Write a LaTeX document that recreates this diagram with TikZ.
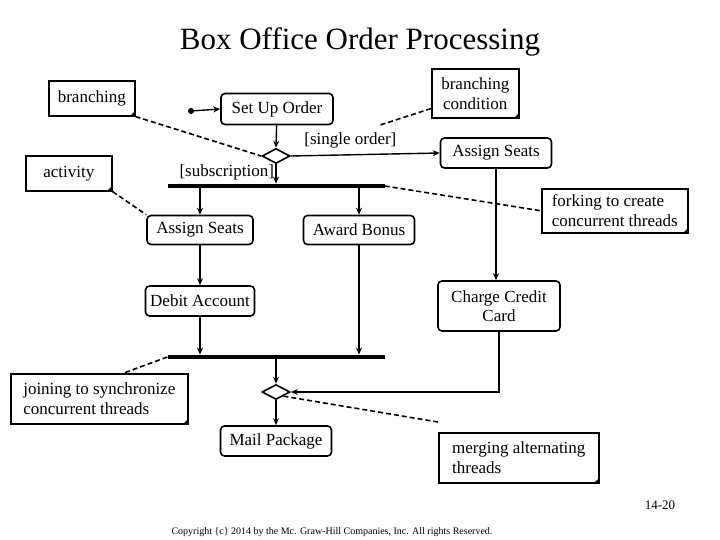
\documentclass[tikz,border=0pt]{standalone}
\usepackage{fontspec}
\setmainfont{Liberation Serif}
\usetikzlibrary{arrows.meta,shapes.geometric}
\tikzset{
  act/.style={draw,line width=1.6pt,rounded corners=4pt,inner sep=1pt,font=\fontsize{17}{19}\selectfont},
  note/.style={draw,line width=1.6pt,align=left,inner sep=3pt,anchor=north west,font=\fontsize{17}{20}\selectfont},
  choice/.style={draw,line width=1.6pt,diamond,minimum width=28pt,minimum height=15pt,inner sep=0pt},
  bar/.style={fill=black,minimum width=217pt,minimum height=4.5pt,inner sep=0pt},
  flow/.style={line width=1.4pt,-{Stealth[length=7pt,width=6pt]}},
  hint/.style={line width=1.6pt,dash pattern=on 5pt off 3pt},
}
\newcommand{\fold}[1]{\fill (#1.south east) -- ++(-6,0) -- ++(6,-6) -- cycle;}
\begin{document}
\begin{tikzpicture}[x=1pt,y=-1pt]
	\useasboundingbox (0,0) rectangle (720,540);
	\node[font=\fontsize{31}{34}\selectfont] (title) at (360,42) {Box Office Order Processing};

	% activities
	\fill (191,111) circle(3pt) coordinate (start);
	\node[act,minimum width=112pt,minimum height=31pt] (setup) at (277,109) {Set Up Order};
	\node[choice] (split) at (276,156) {};
	\node[act,minimum width=111pt,minimum height=30pt] (seatsR) at (496,153) {Assign Seats};
	\node[bar] (fork) at (276,186) {};
	\node[act,minimum width=106pt,minimum height=29pt] (seatsL) at (200,230) {Assign Seats};
	\node[act,minimum width=111pt,minimum height=29pt] (bonus) at (359,230) {Award Bonus};
	\node[act,minimum width=109pt,minimum height=30pt] (debit) at (200,301) {Debit Account};
	\node[act,minimum width=122pt,minimum height=50pt,align=center] (credit) at (499,306) {Charge Credit\\Card};
	\node[bar] (join) at (276,357) {};
	\node[choice] (merge) at (276,392) {};
	\node[act,minimum width=111pt,minimum height=30pt] (mail) at (276,441) {Mail Package};

	% flows
	\draw[flow] (start) -- (setup.west);
	\draw[flow] (setup) -- (split.north);
	\draw[flow] (split.east) -- (seatsR.west) node[pos=0.4,above=3pt,font=\fontsize{17}{19}\selectfont]{[single order]};
	\draw[flow] (split.south) -- (fork.north) node[pos=0.4,left=-2pt,font=\fontsize{17}{19}\selectfont]{[subscription]};
	\draw[flow] (fork.south -| seatsL) -- (seatsL.north);
	\draw[flow] (fork.south -| bonus) -- (bonus.north);
	\draw[flow] (seatsL) -- (debit);
	\draw[flow] (seatsR.south) -- (seatsR.south |- credit.north);
	\draw[flow] (debit) -- (join.north -| debit);
	\draw[flow] (bonus) -- (join.north -| bonus);
	\draw[flow] (join.south) -- (merge.north);
	\draw[flow] (credit.south) |- (merge.east);
	\draw[flow] (merge.south) -- (mail.north);

	% notes
	\node[note,minimum width=86pt,minimum height=35pt] (nBranch) at (48,80) {branching};
	\node[note,minimum width=87pt,minimum height=49pt,align=center] (nCond) at (431,68) {branching\\condition};
	\node[note,minimum width=86pt,minimum height=35pt] (nAct) at (25,155) {activity};
	\node[note,minimum width=146pt,minimum height=44pt,inner sep=2pt] (nFork) at (541,188) {forking to create\\concurrent threads};
	\node[note,minimum width=177pt,minimum height=50pt,inner sep=2pt] (nJoin) at (10,373) {joining to synchronize\\concurrent threads};
	\node[note,minimum width=160pt,minimum height=50pt] (nMerge) at (438,432) {merging alternating\\threads};
	\foreach \n in {nBranch,nCond,nAct,nFork,nJoin,nMerge} {\fold{\n}}

	\coordinate (condEnd) at (380,125);
	\draw[hint] (nBranch.south east) -- (split.west);
	\draw[hint] (nCond.south west) ++(0,-10) -- (condEnd);
	\draw[hint] (nAct.south east) -- (seatsL.north west);
	\draw[hint] (fork.east) -- (nFork.west);
	\draw[hint] (join.west) -- ([xshift=114pt]nJoin.north west);
	\draw[hint] (merge.south east) -- ([yshift=10pt]nMerge.north west);

	\node[font=\fontsize{13}{15}\selectfont] (page) at (660,505) {14-20};
	\node[font=\fontsize{10}{12}\selectfont] (copy) at (332,532) {Copyright \{c\} 2014 by the Mc. Graw-Hill Companies, Inc. All rights Reserved.};
\end{tikzpicture}
\end{document}
